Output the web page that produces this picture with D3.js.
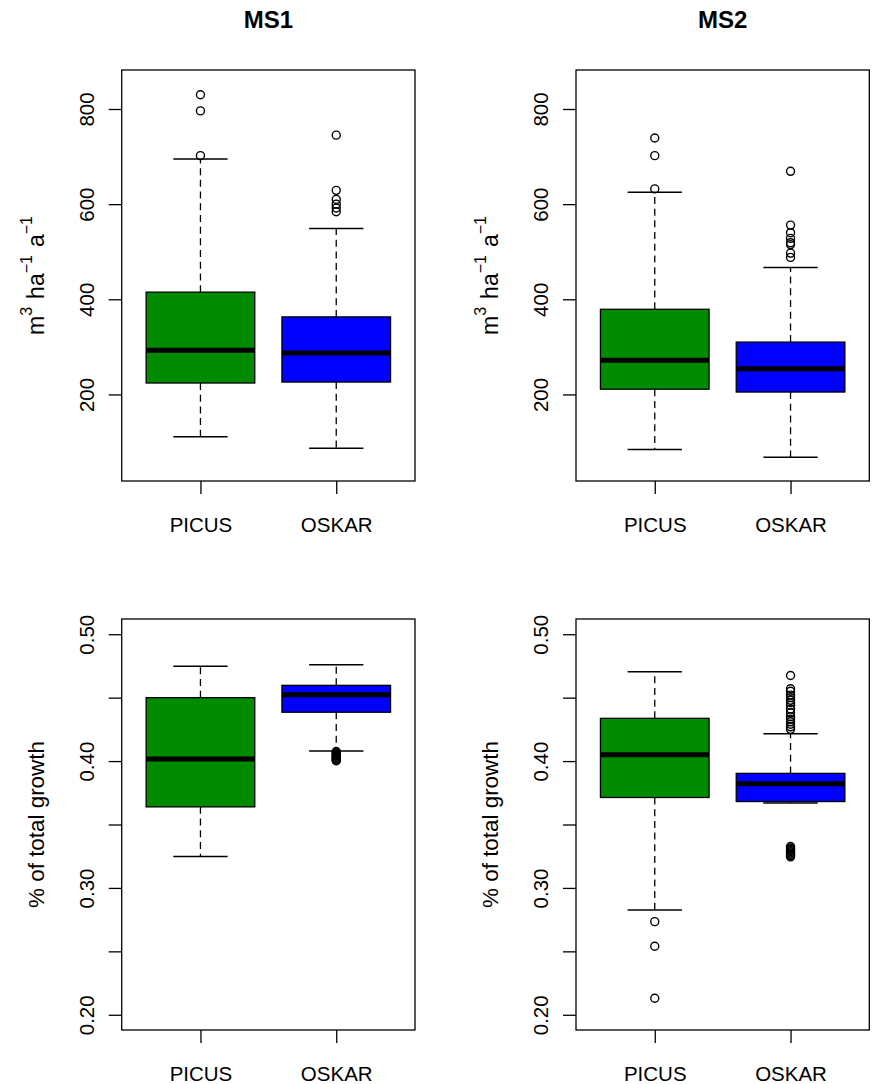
<!DOCTYPE html>
<html>
<head>
<meta charset="utf-8">
<script src="https://cdn.jsdelivr.net/npm/d3@7"></script>
<style>
body { margin: 0; background: #fff; }
text { font-family: "Liberation Sans", Arial, sans-serif; fill: #000; }
</style>
</head>
<body>
<script>
// categories and titles
var categories = ["PICUS", "OSKAR"];
var colTitles = ["MS1", "MS2"];
var boxColors = ["#008B00", "#0000FF"];

// tick values
var volumeTicks = [200, 400, 600, 800];
var shareTicks = [0.20, 0.25, 0.30, 0.35, 0.40, 0.45, 0.50];
var shareLabelled = [0.20, 0.30, 0.40, 0.50];

// volume growth, MS1 (PICUS, OSKAR)
var volMS1Low = [111, 87];
var volMS1Q1 = [224, 226];
var volMS1Med = [293, 287];
var volMS1Q3 = [415, 363];
var volMS1High = [695, 549];
var volMS1Out = [[830, 796, 702], [745, 629, 610, 600, 592, 584]];

// volume growth, MS2
var volMS2Low = [84, 68];
var volMS2Q1 = [211, 205];
var volMS2Med = [272, 254];
var volMS2Q3 = [379, 310];
var volMS2High = [625, 467];
var volMS2Out = [[739, 702, 632], [669, 556, 540, 528, 519, 515, 497, 488]];

// share of total growth, MS1
var shMS1Low = [0.3247, 0.408];
var shMS1Q1 = [0.3639, 0.4385];
var shMS1Med = [0.4016, 0.4522];
var shMS1Q3 = [0.450, 0.4597];
var shMS1High = [0.4747, 0.476];
var shMS1Out = [[], [0.4075, 0.4068, 0.406, 0.4052, 0.4045, 0.4038, 0.403, 0.4022, 0.4015, 0.4008, 0.4003]];

// share of total growth, MS2
var shMS2Low = [0.2826, 0.367];
var shMS2Q1 = [0.3713, 0.3681];
var shMS2Med = [0.405, 0.3821];
var shMS2Q3 = [0.4337, 0.3903];
var shMS2High = [0.4705, 0.4216];
var shMS2Out = [[0.2734, 0.254, 0.213],
  [0.4675, 0.457, 0.455, 0.452, 0.450, 0.448, 0.446, 0.444, 0.441, 0.438, 0.435, 0.433, 0.431, 0.429, 0.427, 0.425,
   0.3326, 0.3315, 0.3305, 0.3295, 0.3285, 0.3275, 0.3265, 0.3255, 0.3245]];

function makeBoxes(low, q1, med, q3, high, out) {
  return categories.map(function(c, i) {
    return {cat: c, low: low[i], q1: q1[i], med: med[i], q3: q3[i], high: high[i], out: out[i], color: boxColors[i]};
  });
}

var panels = [
  {col: 0, row: 0, boxes: makeBoxes(volMS1Low, volMS1Q1, volMS1Med, volMS1Q3, volMS1High, volMS1Out)},
  {col: 1, row: 0, boxes: makeBoxes(volMS2Low, volMS2Q1, volMS2Med, volMS2Q3, volMS2High, volMS2Out)},
  {col: 0, row: 1, boxes: makeBoxes(shMS1Low, shMS1Q1, shMS1Med, shMS1Q3, shMS1High, shMS1Out)},
  {col: 1, row: 1, boxes: makeBoxes(shMS2Low, shMS2Q1, shMS2Med, shMS2Q3, shMS2High, shMS2Out)}
];

var width = 872, height = 1084;
var colX = [[121.7, 415], [576, 869.3]];
var rowY = [[70, 481], [619, 1030]];

var svg = d3.select("body").append("svg")
  .attr("width", width)
  .attr("height", height);

panels.forEach(function(p) {
  var x0 = colX[p.col][0], x1 = colX[p.col][1];
  var y0 = rowY[p.row][0], y1 = rowY[p.row][1];

  var x = d3.scalePoint().domain(categories).range([x0, x1]).padding(0.58);
  var bw = x.step() * 0.8;

  var y = d3.scaleLinear().range([y1, y0]);
  if (p.row == 0) y.domain([18, 882]);
  else y.domain([0.188, 0.512]);

  var g = svg.append("g");

  // boxes
  p.boxes.forEach(function(b) {
    var cx = x(b.cat);
    // whiskers
    g.append("line").attr("x1", cx).attr("x2", cx).attr("y1", y(b.q3)).attr("y2", y(b.high))
      .attr("stroke", "#000").attr("stroke-width", 1.3).attr("stroke-dasharray", "7,4.7");
    g.append("line").attr("x1", cx).attr("x2", cx).attr("y1", y(b.q1)).attr("y2", y(b.low))
      .attr("stroke", "#000").attr("stroke-width", 1.3).attr("stroke-dasharray", "7,4.7");
    [b.high, b.low].forEach(function(v) {
      g.append("line").attr("x1", cx - bw / 4).attr("x2", cx + bw / 4).attr("y1", y(v)).attr("y2", y(v))
        .attr("stroke", "#000").attr("stroke-width", 1.5);
    });
    g.append("rect")
      .attr("x", cx - bw / 2).attr("width", bw)
      .attr("y", y(b.q3)).attr("height", y(b.q1) - y(b.q3))
      .attr("fill", b.color).attr("stroke", "#000").attr("stroke-width", 1.3);
    g.append("line").attr("x1", cx - bw / 2).attr("x2", cx + bw / 2).attr("y1", y(b.med)).attr("y2", y(b.med))
      .attr("stroke", "#000").attr("stroke-width", 5);
    g.selectAll(null).data(b.out).enter().append("circle")
      .attr("cx", cx).attr("cy", function(d) { return y(d); })
      .attr("r", 4).attr("fill", "none").attr("stroke", "#000").attr("stroke-width", 1.4);
  });

  // frame
  g.append("rect").attr("x", x0).attr("y", y0).attr("width", x1 - x0).attr("height", y1 - y0)
    .attr("fill", "none").attr("stroke", "#000").attr("stroke-width", 1.3);

  // y axis
  var yAxis = d3.axisLeft(y).tickSize(13).tickSizeOuter(0);
  if (p.row == 0) {
    yAxis.tickValues(volumeTicks).tickFormat(d3.format("d"));
  } else {
    var f = d3.format(".2f");
    yAxis.tickValues(shareTicks).tickFormat(function(d) {
      return shareLabelled.some(function(v) { return Math.abs(v - d) < 1e-9; }) ? f(d) : "";
    });
  }
  var ya = g.append("g").attr("transform", "translate(" + x0 + ",0)").call(yAxis);
  ya.select(".domain").remove();
  ya.selectAll(".tick line").attr("stroke", "#000").attr("stroke-width", 1.3);
  ya.selectAll(".tick text")
    .attr("x", 0).attr("y", -28).attr("dy", 0)
    .attr("transform", "rotate(-90)")
    .attr("text-anchor", "middle")
    .style("font-size", "20.5px");

  // x axis
  var xa = g.append("g").attr("transform", "translate(0," + y1 + ")")
    .call(d3.axisBottom(x).tickSize(13).tickSizeOuter(0));
  xa.select(".domain").remove();
  xa.selectAll(".tick line").attr("stroke", "#000").attr("stroke-width", 1.3);
  xa.selectAll(".tick text").attr("y", 51).attr("dy", 0).style("font-size", "20.5px");

  // y label
  var cy = (y0 + y1) / 2;
  var lab = g.append("text")
    .attr("transform", "translate(" + (x0 - 78) + "," + cy + ") rotate(-90)")
    .attr("text-anchor", "middle");
  if (p.row == 0) {
    lab.style("font-size", "23px");
    lab.append("tspan").text("m");
    lab.append("tspan").attr("dy", -11.6).style("font-size", "16px").text("3");
    lab.append("tspan").attr("dy", 11.6).attr("dx", 8).text("ha");
    lab.append("tspan").attr("dy", -11.6).style("font-size", "16px").text("\u22121");
    lab.append("tspan").attr("dy", 11.6).attr("dx", 8).text("a");
    lab.append("tspan").attr("dy", -11.6).style("font-size", "16px").text("\u22121");
  } else {
    lab.style("font-size", "22.4px").text("% of total growth");
  }

  // column title
  if (p.row == 0) {
    g.append("text").attr("x", (x0 + x1) / 2).attr("y", 28)
      .attr("text-anchor", "middle")
      .style("font-size", "24px").style("font-weight", "bold")
      .text(colTitles[p.col]);
  }
});
</script>
</body>
</html>
